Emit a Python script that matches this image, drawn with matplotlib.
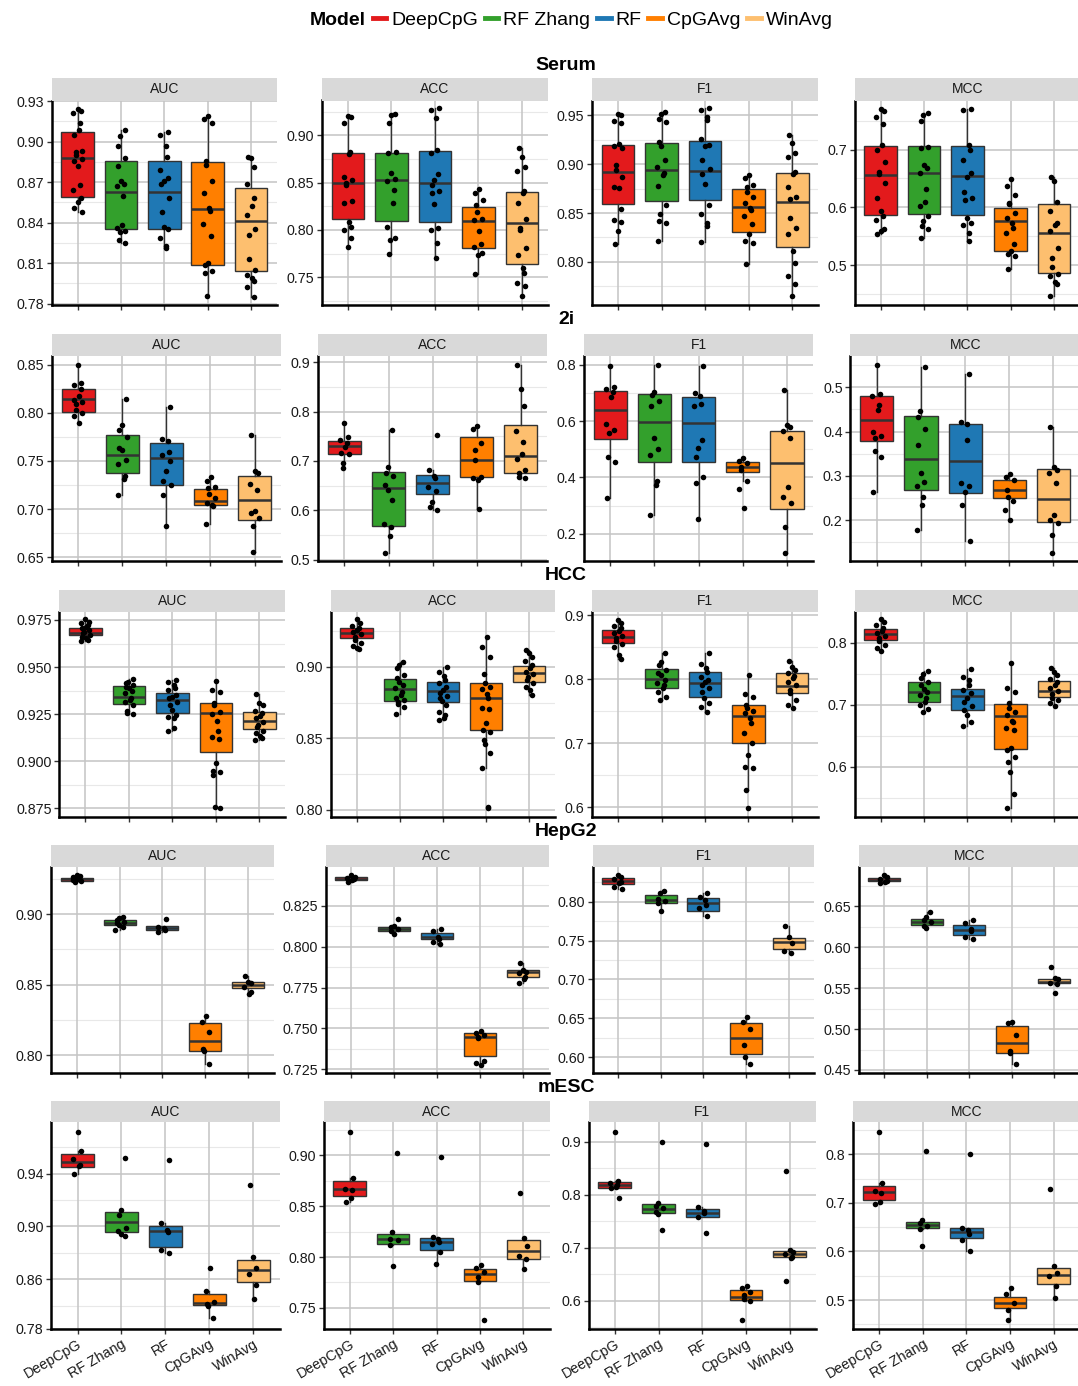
import numpy as np
import matplotlib
matplotlib.use("Agg")
import matplotlib.pyplot as plt
from matplotlib.lines import Line2D

plt.rcParams['font.family'] = ['Liberation Sans', 'DejaVu Sans']

models = ['DeepCpG', 'RF Zhang', 'RF', 'CpGAvg', 'WinAvg']
colors = ['#E31A1C', '#33A02C', '#1F78B4', '#FF7F00', '#FDBF6F']
datasets = ['Serum', '2i', 'HCC', 'HepG2', 'mESC']
metrics = ['AUC', 'ACC', 'F1', 'MCC']

# ---------------- data: boxes are (q1, median, q3) per model ----------------
# Serum
serum_auc_box = [(0.859, 0.888, 0.907), (0.835, 0.863, 0.886), (0.835, 0.863, 0.886),
                 (0.809, 0.850, 0.885), (0.804, 0.841, 0.866)]
serum_auc_pts = [
    [0.924, 0.923, 0.921, 0.914, 0.909, 0.905, 0.893, 0.892, 0.890, 0.887, 0.886, 0.882, 0.868, 0.864, 0.858, 0.855, 0.851, 0.848],
    [0.909, 0.904, 0.897, 0.888, 0.882, 0.871, 0.869, 0.867, 0.860, 0.838, 0.836, 0.834, 0.833, 0.827, 0.825],
    [0.907, 0.905, 0.897, 0.889, 0.879, 0.873, 0.871, 0.869, 0.858, 0.848, 0.837, 0.835, 0.829, 0.823, 0.821],
    [0.919, 0.917, 0.914, 0.886, 0.883, 0.871, 0.862, 0.851, 0.849, 0.839, 0.830, 0.810, 0.809, 0.804, 0.803, 0.786],
    [0.889, 0.888, 0.881, 0.869, 0.858, 0.852, 0.846, 0.835, 0.831, 0.813, 0.805, 0.801, 0.799, 0.797, 0.792, 0.785]]
serum_acc_box = [(0.812, 0.850, 0.881), (0.809, 0.853, 0.881), (0.808, 0.850, 0.883),
                 (0.781, 0.809, 0.824), (0.764, 0.807, 0.840)]
serum_acc_pts = [
    [0.920, 0.919, 0.913, 0.882, 0.880, 0.856, 0.853, 0.850, 0.847, 0.831, 0.829, 0.808, 0.803, 0.800, 0.791, 0.782],
    [0.923, 0.921, 0.913, 0.882, 0.881, 0.860, 0.854, 0.852, 0.842, 0.828, 0.803, 0.792, 0.789, 0.775],
    [0.929, 0.927, 0.918, 0.884, 0.881, 0.859, 0.853, 0.848, 0.841, 0.839, 0.827, 0.802, 0.800, 0.786, 0.770],
    [0.843, 0.839, 0.832, 0.826, 0.819, 0.812, 0.810, 0.799, 0.785, 0.782, 0.776, 0.774, 0.753],
    [0.887, 0.877, 0.867, 0.862, 0.841, 0.839, 0.828, 0.812, 0.802, 0.800, 0.781, 0.774, 0.760, 0.754, 0.744, 0.741, 0.730]]
serum_f1_box = [(0.859, 0.892, 0.920), (0.862, 0.894, 0.922), (0.863, 0.893, 0.924),
                (0.831, 0.856, 0.875), (0.815, 0.861, 0.891)]
serum_f1_pts = [
    [0.951, 0.950, 0.944, 0.942, 0.921, 0.919, 0.916, 0.899, 0.894, 0.887, 0.877, 0.876, 0.854, 0.843, 0.841, 0.832, 0.818],
    [0.953, 0.951, 0.946, 0.943, 0.923, 0.919, 0.904, 0.897, 0.891, 0.889, 0.878, 0.858, 0.849, 0.842, 0.840, 0.821],
    [0.957, 0.955, 0.948, 0.945, 0.926, 0.920, 0.919, 0.904, 0.895, 0.890, 0.880, 0.858, 0.849, 0.840, 0.837, 0.820],
    [0.889, 0.886, 0.879, 0.877, 0.871, 0.866, 0.860, 0.855, 0.853, 0.847, 0.839, 0.829, 0.821, 0.819, 0.798],
    [0.930, 0.922, 0.911, 0.907, 0.892, 0.890, 0.877, 0.866, 0.864, 0.845, 0.835, 0.829, 0.811, 0.799, 0.786, 0.777, 0.765]]
serum_mcc_box = [(0.587, 0.656, 0.706), (0.589, 0.659, 0.706), (0.586, 0.655, 0.706),
                 (0.525, 0.576, 0.599), (0.486, 0.556, 0.605)]
serum_mcc_pts = [
    [0.770, 0.766, 0.757, 0.744, 0.708, 0.699, 0.679, 0.662, 0.658, 0.642, 0.616, 0.593, 0.585, 0.578, 0.562, 0.559, 0.554],
    [0.764, 0.760, 0.750, 0.705, 0.702, 0.674, 0.668, 0.659, 0.631, 0.610, 0.602, 0.585, 0.576, 0.567, 0.563, 0.547],
    [0.771, 0.768, 0.708, 0.699, 0.682, 0.659, 0.653, 0.626, 0.617, 0.613, 0.581, 0.573, 0.570, 0.556, 0.541],
    [0.649, 0.637, 0.622, 0.608, 0.605, 0.590, 0.581, 0.573, 0.564, 0.556, 0.537, 0.524, 0.520, 0.516, 0.494],
    [0.653, 0.646, 0.610, 0.593, 0.573, 0.570, 0.559, 0.529, 0.512, 0.497, 0.484, 0.481, 0.470, 0.467, 0.447]]

# 2i
i2_auc_box = [(0.8005, 0.814, 0.825), (0.737, 0.756, 0.777), (0.725, 0.753, 0.769),
              (0.704, 0.708, 0.721), (0.689, 0.709, 0.734)]
i2_auc_pts = [
    [0.850, 0.831, 0.829, 0.825, 0.817, 0.813, 0.811, 0.809, 0.803, 0.800, 0.797, 0.789],
    [0.814, 0.787, 0.782, 0.775, 0.763, 0.761, 0.751, 0.747, 0.734, 0.731, 0.715],
    [0.806, 0.773, 0.771, 0.759, 0.756, 0.750, 0.740, 0.729, 0.725, 0.715, 0.682],
    [0.733, 0.729, 0.723, 0.722, 0.716, 0.711, 0.706, 0.704, 0.703, 0.684],
    [0.777, 0.739, 0.737, 0.726, 0.720, 0.698, 0.696, 0.691, 0.682, 0.655]]
i2_acc_box = [(0.714, 0.730, 0.740), (0.568, 0.645, 0.677), (0.633, 0.655, 0.671),
              (0.667, 0.702, 0.749), (0.676, 0.710, 0.772)]
i2_acc_pts = [
    [0.776, 0.749, 0.743, 0.736, 0.729, 0.717, 0.714, 0.695, 0.685],
    [0.762, 0.687, 0.675, 0.670, 0.651, 0.641, 0.621, 0.572, 0.567, 0.547, 0.514],
    [0.752, 0.682, 0.670, 0.665, 0.648, 0.639, 0.616, 0.607, 0.601],
    [0.771, 0.764, 0.736, 0.722, 0.701, 0.668, 0.665, 0.662, 0.603],
    [0.895, 0.845, 0.812, 0.760, 0.738, 0.714, 0.705, 0.682, 0.675, 0.668, 0.665]]
i2_f1_box = [(0.536, 0.638, 0.707), (0.454, 0.598, 0.695), (0.453, 0.593, 0.684),
             (0.418, 0.438, 0.453), (0.288, 0.452, 0.563)]
i2_f1_pts = [
    [0.795, 0.722, 0.712, 0.704, 0.686, 0.589, 0.568, 0.559, 0.471, 0.456, 0.325],
    [0.800, 0.704, 0.692, 0.672, 0.653, 0.539, 0.499, 0.479, 0.388, 0.373, 0.265],
    [0.795, 0.698, 0.689, 0.660, 0.653, 0.533, 0.503, 0.473, 0.402, 0.381, 0.251],
    [0.468, 0.459, 0.450, 0.438, 0.426, 0.388, 0.357, 0.290],
    [0.710, 0.586, 0.578, 0.566, 0.539, 0.365, 0.331, 0.308, 0.225, 0.133]]
i2_mcc_box = [(0.378, 0.425, 0.480), (0.269, 0.338, 0.436), (0.262, 0.334, 0.418),
              (0.249, 0.267, 0.291), (0.196, 0.247, 0.315)]
i2_mcc_pts = [
    [0.551, 0.486, 0.480, 0.460, 0.449, 0.400, 0.389, 0.385, 0.355, 0.343, 0.264],
    [0.545, 0.447, 0.434, 0.405, 0.370, 0.306, 0.287, 0.277, 0.251, 0.233, 0.178],
    [0.529, 0.422, 0.417, 0.381, 0.283, 0.277, 0.263, 0.233, 0.153],
    [0.304, 0.298, 0.291, 0.268, 0.253, 0.244, 0.223, 0.199],
    [0.411, 0.319, 0.313, 0.307, 0.283, 0.211, 0.200, 0.193, 0.166, 0.126]]

# HCC
hcc_auc_box = [(0.967, 0.9683, 0.9706), (0.9304, 0.9343, 0.940), (0.9254, 0.9325, 0.9361),
               (0.905, 0.9254, 0.9308), (0.917, 0.9214, 0.9263)]
hcc_auc_pts = [
    [0.9754, 0.9741, 0.9732, 0.9723, 0.9715, 0.9706, 0.9697, 0.9688, 0.9679, 0.967, 0.9662, 0.9653, 0.9644, 0.9638],
    [0.9435, 0.9423, 0.9414, 0.9405, 0.9396, 0.9387, 0.9373, 0.9361, 0.9338, 0.9325, 0.9313, 0.9299, 0.9267, 0.9254, 0.9249],
    [0.9431, 0.9419, 0.9405, 0.9391, 0.9378, 0.9352, 0.9343, 0.9334, 0.9316, 0.9299, 0.9272, 0.9246, 0.9237, 0.9228, 0.9175, 0.9161],
    [0.9426, 0.9378, 0.9369, 0.9308, 0.9299, 0.9263, 0.9249, 0.9214, 0.9162, 0.9131, 0.9118, 0.8989, 0.8948, 0.8941, 0.8927, 0.8758, 0.875],
    [0.9355, 0.9308, 0.9299, 0.9267, 0.9254, 0.9242, 0.9228, 0.921, 0.9192, 0.9183, 0.916, 0.9148, 0.9136, 0.9122, 0.9113]]
hcc_acc_box = [(0.9198, 0.9233, 0.9272), (0.8763, 0.8842, 0.8912), (0.8756, 0.8833, 0.8895),
               (0.8558, 0.8779, 0.8884), (0.8895, 0.8953, 0.9005)]
hcc_acc_pts = [
    [0.933, 0.9302, 0.9286, 0.9272, 0.9256, 0.9244, 0.9226, 0.9209, 0.9186, 0.9163, 0.9147, 0.9133, 0.9123],
    [0.9035, 0.9012, 0.8993, 0.8942, 0.8923, 0.8895, 0.8872, 0.8849, 0.8826, 0.8802, 0.8784, 0.8767, 0.8751, 0.8737, 0.8721, 0.8667],
    [0.900, 0.896, 0.8937, 0.8907, 0.8884, 0.886, 0.8837, 0.8814, 0.8795, 0.8779, 0.876, 0.8733, 0.8686, 0.8663, 0.8644, 0.8628],
    [0.9209, 0.914, 0.907, 0.8947, 0.8884, 0.886, 0.8844, 0.8807, 0.8779, 0.8714, 0.8705, 0.8605, 0.8558, 0.8547, 0.8488, 0.8458, 0.8395, 0.8291, 0.8023, 0.8016],
    [0.9116, 0.9093, 0.907, 0.904, 0.9012, 0.8988, 0.8965, 0.8947, 0.893, 0.8907, 0.8884, 0.886, 0.8837, 0.8802]]
hcc_f1_box = [(0.8558, 0.8662, 0.8766), (0.7856, 0.7996, 0.8163), (0.7726, 0.7944, 0.8106),
              (0.6998, 0.7424, 0.7596), (0.7778, 0.7898, 0.809)]
hcc_f1_pts = [
    [0.8927, 0.887, 0.8834, 0.8792, 0.875, 0.8714, 0.8678, 0.8636, 0.8594, 0.8553, 0.8506, 0.8376, 0.8314],
    [0.8402, 0.8272, 0.822, 0.8142, 0.809, 0.8064, 0.7986, 0.7934, 0.7908, 0.7856, 0.7804, 0.7726, 0.7674],
    [0.8412, 0.823, 0.8178, 0.8106, 0.8038, 0.7986, 0.795, 0.7908, 0.7856, 0.7794, 0.77, 0.7622, 0.757, 0.7482],
    [0.8064, 0.7762, 0.7726, 0.7596, 0.7544, 0.7502, 0.7466, 0.7388, 0.731, 0.7154, 0.6998, 0.6816, 0.6634, 0.6608, 0.627, 0.5984],
    [0.8282, 0.8194, 0.8142, 0.809, 0.8054, 0.8012, 0.796, 0.7908, 0.783, 0.7778, 0.7674, 0.7596, 0.7544]]
hcc_mcc_box = [(0.8043, 0.8134, 0.822), (0.7048, 0.721, 0.7371), (0.6914, 0.7145, 0.7253),
               (0.628, 0.6817, 0.7005), (0.7118, 0.722, 0.7382)]
hcc_mcc_pts = [
    [0.8376, 0.8328, 0.8285, 0.8231, 0.8188, 0.8151, 0.8113, 0.807, 0.8027, 0.7962, 0.7909, 0.7866],
    [0.7543, 0.7489, 0.7425, 0.736, 0.7317, 0.7253, 0.721, 0.7156, 0.7102, 0.7048, 0.6995, 0.693, 0.6887],
    [0.757, 0.7452, 0.7398, 0.7317, 0.7237, 0.7183, 0.7113, 0.7048, 0.6984, 0.6914, 0.6833, 0.6726, 0.6661],
    [0.7667, 0.7263, 0.7199, 0.7022, 0.6952, 0.6876, 0.6833, 0.6737, 0.6715, 0.6629, 0.6591, 0.6296, 0.6269, 0.6161, 0.6081, 0.5919, 0.5554, 0.5328],
    [0.7586, 0.7522, 0.7478, 0.7414, 0.736, 0.7317, 0.7263, 0.722, 0.7167, 0.7113, 0.7075, 0.7022, 0.6984]]

# HepG2
hepg2_auc_box = [(0.9236, 0.9246, 0.9258), (0.8924, 0.8939, 0.8957), (0.8884, 0.8898, 0.8915),
                 (0.8031, 0.8099, 0.8225), (0.8473, 0.8496, 0.8515)]
hepg2_auc_pts = [
    [0.9277, 0.927, 0.926, 0.9253, 0.9246, 0.9241, 0.9236, 0.9229],
    [0.8981, 0.8969, 0.8957, 0.8946, 0.8934, 0.8922, 0.8905, 0.8887],
    [0.8962, 0.891, 0.8898, 0.8887, 0.8875],
    [0.8277, 0.8237, 0.8163, 0.8040, 0.8026, 0.7936],
    [0.8563, 0.852, 0.8508, 0.8485, 0.8449, 0.8433]]
hepg2_acc_box = [(0.8405, 0.8415, 0.8423), (0.8097, 0.811, 0.8122), (0.8044, 0.8057, 0.8085),
                 (0.7334, 0.745, 0.747), (0.7816, 0.7845, 0.7859)]
hepg2_acc_pts = [
    [0.8437, 0.8427, 0.8421, 0.8415, 0.8407, 0.8397],
    [0.8169, 0.8126, 0.8118, 0.8105, 0.8097, 0.8077],
    [0.8107, 0.8095, 0.8061, 0.8044, 0.803, 0.8016],
    [0.7486, 0.7474, 0.746, 0.745, 0.7439, 0.7303, 0.7291, 0.7277],
    [0.7898, 0.7857, 0.7845, 0.7837, 0.7816, 0.78, 0.778]]
hepg2_f1_box = [(0.8227, 0.8266, 0.830), (0.7987, 0.8021, 0.8082), (0.7884, 0.7979, 0.8043),
                (0.6034, 0.6249, 0.6433), (0.7386, 0.7485, 0.7528)]
hepg2_f1_pts = [
    [0.8343, 0.8322, 0.8288, 0.8258, 0.8236, 0.8193, 0.8167],
    [0.8142, 0.8107, 0.803, 0.8009, 0.7987, 0.7884],
    [0.8116, 0.8056, 0.8021, 0.7957, 0.7914, 0.7815],
    [0.6519, 0.6455, 0.6356, 0.6155, 0.5996, 0.591],
    [0.7687, 0.7541, 0.7464, 0.7365, 0.7343]]
hepg2_mcc_box = [(0.6801, 0.6817, 0.6837), (0.6264, 0.6309, 0.6346), (0.6146, 0.6207, 0.6268),
                 (0.4703, 0.4833, 0.5037), (0.5557, 0.5577, 0.561)]
hepg2_mcc_pts = [
    [0.6878, 0.685, 0.6825, 0.6809, 0.6797, 0.6785],
    [0.6427, 0.6362, 0.6329, 0.6309, 0.6256, 0.6232],
    [0.6329, 0.6297, 0.6215, 0.6199, 0.6126, 0.6102],
    [0.5089, 0.5069, 0.4923, 0.4736, 0.4703, 0.4573],
    [0.5752, 0.5626, 0.5606, 0.5565, 0.5549, 0.5443]]

# mESC
mesc_auc_box = [(0.9448, 0.9485, 0.955), (0.8955, 0.9035, 0.9113), (0.8848, 0.8963, 0.9005),
                (0.8405, 0.8418, 0.849), (0.8578, 0.8668, 0.8748)]
mesc_auc_pts = [
    [0.9718, 0.9568, 0.951, 0.9468, 0.9455, 0.9398],
    [0.9518, 0.9125, 0.9088, 0.8985, 0.8968, 0.8943, 0.893],
    [0.9505, 0.9025, 0.8973, 0.8955, 0.8823, 0.8798],
    [0.8688, 0.8513, 0.843, 0.8413, 0.8398, 0.8305],
    [0.931, 0.8768, 0.8688, 0.8643, 0.856, 0.8448]]
mesc_acc_box = [(0.8604, 0.8666, 0.8748), (0.8129, 0.8175, 0.823), (0.807, 0.8145, 0.8191),
                (0.7765, 0.7834, 0.788), (0.7981, 0.8063, 0.8171)]
mesc_acc_pts = [
    [0.9229, 0.8774, 0.8669, 0.8656, 0.8577, 0.8538],
    [0.902, 0.825, 0.8178, 0.8169, 0.812, 0.7916],
    [0.898, 0.8201, 0.8178, 0.8152, 0.8125, 0.8053, 0.7929],
    [0.7922, 0.789, 0.7857, 0.7808, 0.7752, 0.7382],
    [0.8633, 0.8191, 0.8112, 0.8011, 0.7978, 0.7883]]
mesc_f1_box = [(0.8132, 0.8182, 0.8233), (0.7648, 0.773, 0.7818), (0.7585, 0.766, 0.7736),
               (0.6013, 0.6075, 0.6201), (0.6818, 0.6874, 0.6937)]
mesc_f1_pts = [
    [0.9189, 0.8258, 0.8214, 0.8182, 0.8145, 0.8119, 0.7931],
    [0.8987, 0.7836, 0.7792, 0.7742, 0.7679, 0.7629, 0.7327],
    [0.8956, 0.7767, 0.7692, 0.7648, 0.7585, 0.7277],
    [0.6283, 0.6233, 0.6157, 0.6107, 0.6031, 0.5994, 0.5635],
    [0.8447, 0.6956, 0.6925, 0.6874, 0.683, 0.6799, 0.6371]]
mesc_mcc_box = [(0.706, 0.7231, 0.7355), (0.6476, 0.6545, 0.6614), (0.627, 0.6408, 0.6476),
                (0.4828, 0.4932, 0.5069), (0.533, 0.5515, 0.5666)]
mesc_mcc_pts = [
    [0.8467, 0.7403, 0.7245, 0.7211, 0.7012, 0.6971],
    [0.8069, 0.6641, 0.6579, 0.6531, 0.6463, 0.6113],
    [0.80, 0.649, 0.6442, 0.6353, 0.6236, 0.6003],
    [0.5241, 0.5117, 0.4932, 0.4795, 0.4589],
    [0.7279, 0.5708, 0.555, 0.5502, 0.5289, 0.5034]]

# y axis ticks, labels and ranges per panel (AUC, ACC, F1, MCC)
serum_yticks = [[0.78, 0.81, 0.84, 0.87, 0.90, 0.93], [0.75, 0.80, 0.85, 0.90],
                [0.80, 0.85, 0.90, 0.95], [0.5, 0.6, 0.7]]
serum_ylabels = [['0.78', '0.81', '0.84', '0.87', '0.90', '0.93'], ['0.75', '0.80', '0.85', '0.90'],
                 ['0.80', '0.85', '0.90', '0.95'], ['0.5', '0.6', '0.7']]
serum_ylims = [(0.779, 0.9305), (0.7207, 0.9368), (0.756, 0.965), (0.431, 0.785)]

i2_yticks = [[0.65, 0.70, 0.75, 0.80, 0.85], [0.5, 0.6, 0.7, 0.8, 0.9],
             [0.2, 0.4, 0.6, 0.8], [0.2, 0.3, 0.4, 0.5]]
i2_ylabels = [['0.65', '0.70', '0.75', '0.80', '0.85'], ['0.5', '0.6', '0.7', '0.8', '0.9'],
              ['0.2', '0.4', '0.6', '0.8'], ['0.2', '0.3', '0.4', '0.5']]
i2_ylims = [(0.646, 0.859), (0.4973, 0.9128), (0.103, 0.8308), (0.1074, 0.5708)]

hcc_yticks = [[0.875, 0.900, 0.925, 0.950, 0.975], [0.80, 0.85, 0.90],
              [0.6, 0.7, 0.8, 0.9], [0.6, 0.7, 0.8]]
hcc_ylabels = [['0.875', '0.900', '0.925', '0.950', '0.975'], ['0.80', '0.85', '0.90'],
               ['0.6', '0.7', '0.8', '0.9'], ['0.6', '0.7', '0.8']]
hcc_ylims = [(0.8706, 0.9794), (0.7953, 0.9384), (0.5854, 0.9052), (0.5194, 0.85)]

hepg2_yticks = [[0.80, 0.85, 0.90], [0.725, 0.750, 0.775, 0.800, 0.825],
                [0.60, 0.65, 0.70, 0.75, 0.80], [0.45, 0.50, 0.55, 0.60, 0.65]]
hepg2_ylabels = [['0.80', '0.85', '0.90'], ['0.725', '0.750', '0.775', '0.800', '0.825'],
                 ['0.60', '0.65', '0.70', '0.75', '0.80'], ['0.45', '0.50', '0.55', '0.60', '0.65']]
hepg2_ylims = [(0.7875, 0.9336), (0.723, 0.8488), (0.5798, 0.8451), (0.4467, 0.698)]

mesc_yticks = [[0.8225, 0.86, 0.90, 0.94], [0.75, 0.80, 0.85, 0.90],
               [0.6, 0.7, 0.8, 0.9], [0.5, 0.6, 0.7, 0.8]]
mesc_ylabels = [['0.78', '0.86', '0.90', '0.94'], ['0.75', '0.80', '0.85', '0.90'],
                ['0.6', '0.7', '0.8', '0.9'], ['0.5', '0.6', '0.7', '0.8']]
mesc_ylims = [(0.8222, 0.9788), (0.729, 0.9324), (0.5459, 0.9365), (0.4397, 0.8659)]

panel_data = {
    'Serum': ([serum_auc_box, serum_acc_box, serum_f1_box, serum_mcc_box],
              [serum_auc_pts, serum_acc_pts, serum_f1_pts, serum_mcc_pts],
              serum_yticks, serum_ylabels, serum_ylims),
    '2i': ([i2_auc_box, i2_acc_box, i2_f1_box, i2_mcc_box],
           [i2_auc_pts, i2_acc_pts, i2_f1_pts, i2_mcc_pts],
           i2_yticks, i2_ylabels, i2_ylims),
    'HCC': ([hcc_auc_box, hcc_acc_box, hcc_f1_box, hcc_mcc_box],
            [hcc_auc_pts, hcc_acc_pts, hcc_f1_pts, hcc_mcc_pts],
            hcc_yticks, hcc_ylabels, hcc_ylims),
    'HepG2': ([hepg2_auc_box, hepg2_acc_box, hepg2_f1_box, hepg2_mcc_box],
              [hepg2_auc_pts, hepg2_acc_pts, hepg2_f1_pts, hepg2_mcc_pts],
              hepg2_yticks, hepg2_ylabels, hepg2_ylims),
    'mESC': ([mesc_auc_box, mesc_acc_box, mesc_f1_box, mesc_mcc_box],
             [mesc_auc_pts, mesc_acc_pts, mesc_f1_pts, mesc_mcc_pts],
             mesc_yticks, mesc_ylabels, mesc_ylims),
}

# ---------------- layout (pixels) ----------------
W, H = 1078, 1386
# per row: (strip top, axes top, axes bottom), title y
row_y = [(78, 100.5, 305), (334, 356, 561), (590, 611.7, 816.7),
         (845, 866.7, 1072.7), (1101, 1122.3, 1329.3)]
title_y = [65, 320, 576, 832, 1088]
# per row: list of (left, right) for AUC, ACC, F1, MCC
col_x = [
    [(51.7, 277), (321.8, 547.9), (592, 818.3), (854.7, 1080)],
    [(51.7, 281), (318, 547.2), (583.8, 813.5), (850.3, 1080)],
    [(59.3, 285.4), (330.6, 555.2), (592, 818), (854.6, 1080)],
    [(51.1, 273.7), (325.6, 548.5), (592.6, 814.3), (858.5, 1080)],
    [(51.2, 279.5), (323.7, 549.5), (588.6, 816), (852.7, 1080)],
]

major_grid = '#C4C4C4'
minor_grid = '#E8E8E8'
edge = '#333333'

fig = plt.figure(figsize=(W / 100, H / 100), dpi=100)
fig.patch.set_facecolor('white')


def px_axes(left, top, right, bottom):
    return fig.add_axes([left / W, 1 - bottom / H, (right - left) / W, (bottom - top) / H])


def draw_panel(ax, boxes, pts, ticks, labels, ylim, bottom_row):
    ax.set_facecolor('white')
    ax.set_xlim(0.4, 5.6)
    ax.set_ylim(*ylim)
    # minor grid halfway between the regular breaks
    step = ticks[-1] - ticks[-2]
    minors = np.arange(ticks[-1] + step / 2, ylim[0] - step, -step)
    for m in minors:
        if ylim[0] < m < ylim[1]:
            ax.axhline(m, color=minor_grid, lw=0.8, zorder=0)
    for t in ticks:
        ax.axhline(t, color=major_grid, lw=1.1, zorder=0.5)
    for x in range(1, 6):
        ax.axvline(x, color=major_grid, lw=1.1, zorder=0.5)

    stats = []
    for (q1, med, q3), p in zip(boxes, pts):
        p = np.asarray(p)
        iqr = q3 - q1
        inside = p[(p >= q1 - 1.5 * iqr) & (p <= q3 + 1.5 * iqr)]
        stats.append(dict(q1=q1, med=med, q3=q3,
                          whislo=min(inside.min(), q1), whishi=max(inside.max(), q3),
                          fliers=[]))
    bp = ax.bxp(stats, positions=range(1, 6), widths=0.75, patch_artist=True,
                showcaps=False, showfliers=False,
                boxprops=dict(edgecolor=edge, linewidth=1.0),
                whiskerprops=dict(color=edge, linewidth=1.0),
                medianprops=dict(color=edge, linewidth=1.8),
                zorder=2)
    for patch, c in zip(bp['boxes'], colors):
        patch.set_facecolor(c)

    # jittered points
    for i, p in enumerate(pts):
        n = len(p)
        offs = 0.1 * np.sin(2.3 * np.arange(n) + i)
        ax.scatter(i + 1 + offs, p, s=16, color='black', zorder=3, linewidths=0)

    for s in ['top', 'right']:
        ax.spines[s].set_visible(False)
    for s in ['left', 'bottom']:
        ax.spines[s].set_linewidth(1.8)
        ax.spines[s].set_color('black')
        ax.spines[s].set_zorder(4)
    ax.set_yticks(ticks)
    ax.set_yticklabels(labels, fontsize=10.3, color='#1a1a1a')
    ax.set_xticks(range(1, 6))
    if bottom_row:
        ax.set_xticklabels(models, fontsize=10.3, color='#1a1a1a', rotation=30,
                           ha='right', va='top', rotation_mode='anchor')
    else:
        ax.set_xticklabels([])
    ax.tick_params(axis='both', length=3.5, width=1, color='#333333', pad=2)


for r, ds in enumerate(datasets):
    boxes_l, pts_l, ticks_l, labels_l, ylims_l = panel_data[ds]
    s_top, a_top, a_bot = row_y[r]
    for c, met in enumerate(metrics):
        left, right = col_x[r][c]
        ax = px_axes(left, a_top, right, a_bot)
        draw_panel(ax, boxes_l[c], pts_l[c], ticks_l[c], labels_l[c], ylims_l[c], r == 4)
        sax = px_axes(left, s_top, right, a_top)
        sax.set_facecolor('#D9D9D9')
        sax.set_xticks([])
        sax.set_yticks([])
        for s in sax.spines.values():
            s.set_visible(False)
        sax.text(0.5, 0.5, met, ha='center', va='center', fontsize=10,
                 color='#1a1a1a', transform=sax.transAxes)
    fig.text(566 / W, 1 - title_y[r] / H, ds, ha='center', va='center',
             fontsize=14, fontweight='bold')

# legend
handles = [Line2D([], [], linestyle='none')]
handles += [Line2D([], [], color=c, lw=3.5) for c in colors]
leg = fig.legend(handles, ['Model'] + models, loc='center', ncol=6,
                 bbox_to_anchor=(562 / W, 1 - 20 / H), frameon=False, fontsize=14,
                 handlelength=0.7, handletextpad=0.25, columnspacing=0.35)
leg.get_texts()[0].set_fontweight('bold')

fig.savefig('out.png', dpi=100, facecolor='white')
